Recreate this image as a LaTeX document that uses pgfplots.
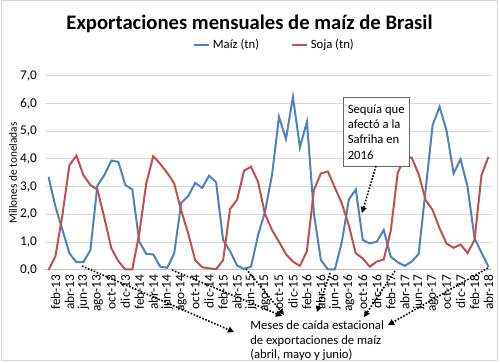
\documentclass[border=0pt]{standalone}
\usepackage{fontspec}
\setmainfont{Carlito}
\usepackage{pgfplots}
\pgfplotsset{compat=1.18}
\usetikzlibrary{arrows.meta}
\definecolor{maiz}{HTML}{4F81BD}
\definecolor{soja}{HTML}{C0504D}
\definecolor{gridc}{HTML}{D9D9D9}
\definecolor{axisc}{HTML}{BFBFBF}
\begin{document}
\begin{tikzpicture}
\path[use as bounding box] (0pt,0pt) rectangle (375pt,272.25pt);
\draw[gridc, line width=0.75pt] (0.75pt,1.5pt) rectangle (372.75pt,271.5pt);
\begin{axis}[
  at={(33.75pt,69.75pt)}, anchor=south west,
  width=335.25pt, height=145.7pt, scale only axis,
  xmin=-0.5, xmax=63.5, ymin=0, ymax=7,
  axis x line*=bottom, axis y line*=left,
  x axis line style={axisc, line width=0.75pt},
  y axis line style={draw=none},
  major tick length=0pt,
  ytick={0,1,...,7},
  ymajorgrids, major grid style={gridc, line width=0.75pt},
  /pgf/number format/fixed, /pgf/number format/fixed zerofill,
  /pgf/number format/precision=1, /pgf/number format/use comma,
  /pgf/number format/assume math mode=true,
  yticklabel style={font=\fontsize{10}{12}\selectfont, xshift=-2.5pt},
  xtick={1,3,...,63},
  xticklabels={feb-13,abr-13,jun-13,ago-13,oct-13,dic-13,feb-14,abr-14,jun-14,ago-14,oct-14,dic-14,feb-15,abr-15,jun-15,ago-15,oct-15,dic-15,feb-16,abr-16,jun-16,ago-16,oct-16,dic-16,feb-17,abr-17,jun-17,ago-17,oct-17,dic-17,feb-18,abr-18},
  xticklabel style={rotate=90, anchor=east, font=\fontsize{10}{12}\selectfont},
  legend columns=2,
  legend style={at={(0.331,1.158)}, anchor=west, draw=none, fill=none, inner sep=0pt,
    font=\fontsize{9.5}{11}\selectfont,
    /tikz/every even column/.append style={column sep=22pt}},
  legend image code/.code={\draw[#1] (0pt,0pt) -- (11.25pt,0pt);},
  clip=false,
]
\addplot[maiz, line width=1.5pt] coordinates {
(0,3.36)(1,2.28)(2,1.44)(3,0.60)(4,0.28)(5,0.28)(6,0.72)(7,3.04)(8,3.42)(9,3.94)
(10,3.90)(11,3.06)(12,2.90)(13,1.02)(14,0.58)(15,0.56)(16,0.12)(17,0.08)(18,0.60)(19,2.42)
(20,2.66)(21,3.14)(22,2.96)(23,3.40)(24,3.16)(25,1.08)(26,0.68)(27,0.16)(28,0.04)(29,0.12)
(30,1.25)(31,2.10)(32,3.42)(33,5.52)(34,4.72)(35,6.24)(36,4.42)(37,5.34)(38,2.04)(39,0.36)
(40,0.02)(41,0.02)(42,1.00)(43,2.54)(44,2.90)(45,1.08)(46,0.96)(47,1.02)(48,1.44)(49,0.48)
(50,0.28)(51,0.15)(52,0.30)(53,0.58)(54,2.90)(55,5.22)(56,5.88)(57,5.02)(58,3.48)(59,3.99)
(60,3.00)(61,1.14)(62,0.62)(63,0.12)};
\addplot[soja, line width=1.5pt] coordinates {
(0,0.00)(1,0.50)(2,2.00)(3,3.78)(4,4.12)(5,3.42)(6,3.06)(7,2.90)(8,1.88)(9,0.78)
(10,0.32)(11,0.02)(12,0.02)(13,1.32)(14,3.12)(15,4.10)(16,3.82)(17,3.50)(18,3.12)(19,2.14)
(20,1.32)(21,0.36)(22,0.10)(23,0.06)(24,0.03)(25,0.35)(26,2.20)(27,2.53)(28,3.58)(29,3.72)
(30,3.18)(31,2.02)(32,1.44)(33,1.02)(34,0.57)(35,0.30)(36,0.15)(37,0.68)(38,2.88)(39,3.48)
(40,3.55)(41,2.97)(42,2.40)(43,1.60)(44,0.60)(45,0.42)(46,0.12)(47,0.30)(48,0.38)(49,1.40)
(50,3.50)(51,4.04)(52,4.05)(53,3.45)(54,2.52)(55,2.16)(56,1.50)(57,0.95)(58,0.80)(59,0.92)
(60,0.61)(61,1.08)(62,3.42)(63,4.08)};
\legend{Maíz (tn), Soja (tn)}
\end{axis}
\begin{scope}[x=0.75pt,y=0.75pt]
% title
\node[font=\fontsize{15.5}{19}\selectfont\bfseries] at (249.5,339.6) {Exportaciones mensuales de maíz de Brasil};
% y label
\node[rotate=90, font=\fontsize{8.5}{10}\selectfont] at (13,190) {Millones de toneladas};
% drought box
\node[draw=black!60, fill=white, line width=0.6pt, align=left, inner xsep=3.5pt, minimum height=51.5pt,
      font=\fontsize{9.5}{11.5}\selectfont, anchor=north west] at (342.7,265.7)
      {Sequía que\\afectó a la\\Safriha en\\2016};
\tikzset{dotarrow/.style={black, line width=1.2pt, dash pattern=on 1.2pt off 1.2pt, -{Triangle[length=4.5pt,width=4.5pt]}}}
\draw[dotarrow] (376,197) -- (362,150);
% seasonal text
\node[align=left, anchor=north west, inner sep=0pt, font=\fontsize{9.5}{11}\selectfont] at (250,42.5)
  {Meses de caída estacional\\de exportaciones de maíz\\(abril, mayo y junio)};
\draw[dotarrow] (82,97) -- (234,31);
\draw[dotarrow] (172,93) -- (282,47);
\draw[dotarrow] (246,94) -- (284,48);
\draw[dotarrow] (330,90) -- (317,51);
\draw[dotarrow] (395,92) -- (364,46);
\draw[dotarrow] (488,95) -- (388,38);
\end{scope}
\end{tikzpicture}
\end{document}
